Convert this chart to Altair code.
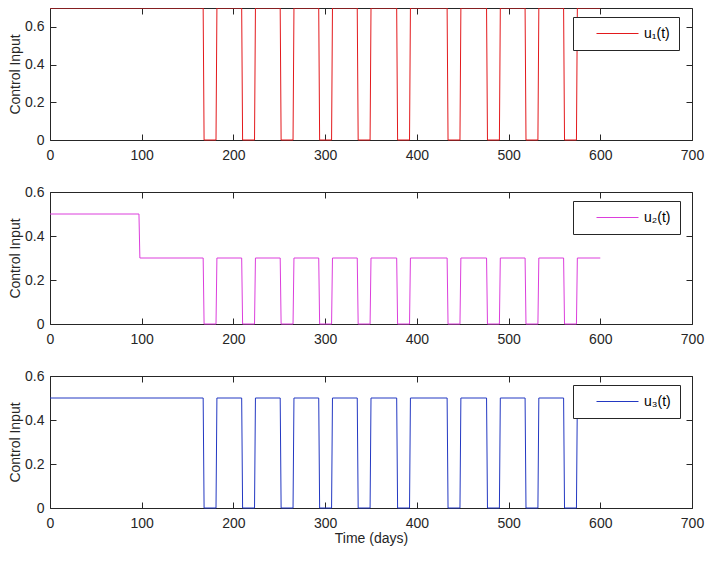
import altair as alt
import pandas as pd

# ---- data ----
t_end = 600
off_start = [167, 209, 251, 293, 335, 378, 433, 476, 518, 560]
off_end = [181, 223, 265, 307, 349, 392, 447, 490, 532, 574]
ramp = 1
u1_level = 0.7
u2_initial = 0.5
u2_switch = 97
u2_level = 0.3
u3_level = 0.5

x_ticks = [0, 100, 200, 300, 400, 500, 600, 700]
y_ticks = [0, 0.2, 0.4, 0.6]
y_max = [0.7, 0.6, 0.6]
labels = ["u\u2081(t)", "u\u2082(t)", "u\u2083(t)"]
colors = ["#e3191c", "#dc3edc", "#2338c2"]

FONT = "Liberation Sans"
AX = "#262626"


def build(level, pre=None):
    pts = []
    if pre is not None:
        pts += [(0, pre[0]), (pre[1], pre[0]), (pre[1] + ramp, level)]
    else:
        pts.append((0, level))
    for a, b in zip(off_start, off_end):
        pts += [(a, level), (a + ramp, 0), (b, 0), (b + ramp, level)]
    pts.append((t_end, level))
    return pts


series = [
    build(u1_level),
    build(u2_level, pre=(u2_initial, u2_switch)),
    build(u3_level),
]


def panel(pts, label, color, ymax, show_xtitle):
    df = pd.DataFrame(pts, columns=["t", "u"])
    df["i"] = range(len(df))
    df["s"] = label
    xs = alt.Scale(domain=[0, 700], nice=False, zero=False)
    ys = alt.Scale(domain=[0, ymax], nice=False, zero=False)
    base = alt.Chart(df)
    xaxis = dict(values=x_ticks, orient="bottom", offset=-6, tickSize=6,
                 domain=False, grid=False, labelPadding=8, labelFlush=False,
                 format="d", titlePadding=1)
    xaxis["title"] = "Time (days)" if show_xtitle else None
    main = base.mark_line(strokeWidth=1).encode(
        x=alt.X("t:Q", scale=xs, axis=alt.Axis(**xaxis)),
        y=alt.Y("u:Q", scale=ys, axis=alt.Axis(
            values=y_ticks, orient="left", offset=-6, tickSize=6, domain=False,
            grid=False, labelPadding=6, labelFlush=False, format="~g",
            title="Control Input", titlePadding=2)),
        color=alt.Color("s:N", scale=alt.Scale(domain=[label], range=[color]),
                        legend=alt.Legend(
                            orient="none", legendX=523, legendY=9, title=None,
                            fillColor="white", strokeColor=AX, padding=9,
                            symbolType="stroke", symbolSize=1764,
                            symbolStrokeWidth=1, symbolOffset=14,
                            labelOffset=5, clipHeight=15,
                            labelFont=FONT, labelFontSize=14,
                            labelColor="black")),
        order="i:Q",
    )
    frame = base.mark_line(strokeOpacity=0).encode(
        x=alt.X("t:Q", scale=xs, axis=alt.Axis(
            values=x_ticks, orient="top", offset=-6, tickSize=6, domain=False,
            grid=False, labels=False, title=None)),
        y=alt.Y("u:Q", scale=ys, axis=alt.Axis(
            values=y_ticks, orient="right", offset=-6, tickSize=6, domain=False,
            grid=False, labels=False, title=None)),
        order="i:Q",
    )
    return alt.layer(main, frame).resolve_axis(
        x="independent", y="independent").properties(width=642, height=132)


panels = [panel(series[k], labels[k], colors[k], y_max[k], k == 2) for k in range(3)]

chart = alt.vconcat(*panels, spacing=52, bounds="flush").resolve_scale(
    color="independent", x="independent", y="independent"
).resolve_legend(color="independent").properties(
    padding={"left": 0, "top": -3, "right": 0, "bottom": 0},
).configure_view(
    stroke=AX, strokeWidth=1
).configure_axis(
    labelFont=FONT, titleFont=FONT, labelFontSize=14, titleFontSize=14,
    labelColor=AX, titleColor=AX, tickColor=AX, titleFontWeight="normal",
    labelOverlap=False, labelBound=False,
)

chart.save("out.html", embed_options={"renderer": "svg", "actions": False})
